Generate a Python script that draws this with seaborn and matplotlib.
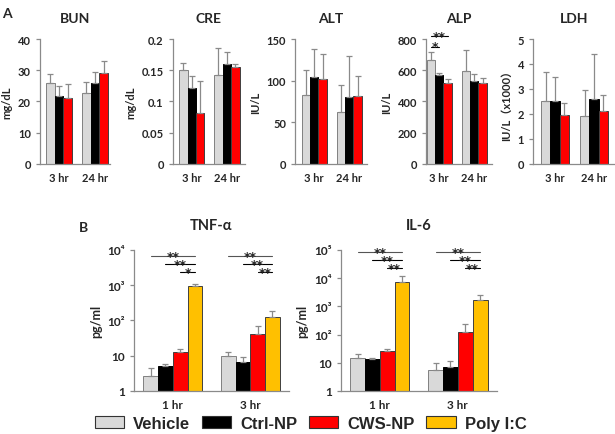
import matplotlib
matplotlib.use("Agg")
import matplotlib.pyplot as plt
from matplotlib.patches import Patch
import numpy as np
import pandas as pd
import seaborn as sns

# ---------------- data ----------------
groups_a = ["3 hr", "24 hr"]
groups_b = ["1 hr", "3 hr"]
series_a = ["Vehicle", "Ctrl-NP", "CWS-NP"]
series_b = ["Vehicle", "Ctrl-NP", "CWS-NP", "Poly I:C"]

# panel A: mean / sd per series, [3 hr, 24 hr]
bun_mean = {"Vehicle": [25.8, 22.7], "Ctrl-NP": [21.9, 25.8], "CWS-NP": [21.2, 29.1]}
bun_sd = {"Vehicle": [3.0, 3.4], "Ctrl-NP": [3.0, 3.7], "CWS-NP": [4.5, 3.8]}
cre_mean = {"Vehicle": [0.151, 0.143], "Ctrl-NP": [0.121, 0.160], "CWS-NP": [0.081, 0.155]}
cre_sd = {"Vehicle": [0.010, 0.042], "Ctrl-NP": [0.019, 0.019], "CWS-NP": [0.051, 0.005]}
alt_mean = {"Vehicle": [82.7, 62.3], "Ctrl-NP": [104.4, 80.4], "CWS-NP": [102.4, 81.6]}
alt_sd = {"Vehicle": [30, 33], "Ctrl-NP": [34, 49], "CWS-NP": [30, 23.5]}
alp_mean = {"Vehicle": [665, 597], "Ctrl-NP": [567, 529], "CWS-NP": [516, 520]}
alp_sd = {"Vehicle": [50, 130], "Ctrl-NP": [13, 50], "CWS-NP": [26, 32]}
ldh_mean = {"Vehicle": [2.5, 1.93], "Ctrl-NP": [2.5, 2.6], "CWS-NP": [1.95, 2.1]}
ldh_sd = {"Vehicle": [1.18, 1.03], "Ctrl-NP": [0.98, 1.8], "CWS-NP": [0.47, 0.65]}

# panel B: [1 hr, 3 hr]
tnf_mean = {"Vehicle": [2.7, 9.7], "Ctrl-NP": [5.0, 6.6], "CWS-NP": [12.6, 42], "Poly I:C": [930, 127]}
tnf_sd = {"Vehicle": [1.8, 3.2], "Ctrl-NP": [0.8, 2.7], "CWS-NP": [3.4, 28], "Poly I:C": [120, 58]}
il6_mean = {"Vehicle": [14.7, 5.6], "Ctrl-NP": [13.5, 7.2], "CWS-NP": [27, 126], "Poly I:C": [7600, 1740]}
il6_sd = {"Vehicle": [5.3, 4.1], "Ctrl-NP": [1.2, 4.1], "CWS-NP": [4, 114], "Poly I:C": [3900, 800]}

colors = {"Vehicle": "#d9d9d9", "Ctrl-NP": "#000000", "CWS-NP": "#ff0000", "Poly I:C": "#ffc000"}
edges = {"Vehicle": "#808080", "Ctrl-NP": "#000000", "CWS-NP": "#404040", "Poly I:C": "#404040"}

sns.set_theme(style="white")
plt.rcParams["font.family"] = ["Lato", "Noto Sans CJK JP", "DejaVu Sans"]
plt.rcParams["font.weight"] = "bold"
plt.rcParams["axes.labelweight"] = "bold"
plt.rcParams["axes.titleweight"] = "bold"

fig = plt.figure(figsize=(6.15, 4.35), dpi=100)
GRAY = "#8a8a8a"


def draw_bars(ax, groups, series, mean, sd, width, xlim, log=False):
    rows = []
    for s in series:
        for g, m in zip(groups, mean[s]):
            rows.append({"group": g, "series": s, "value": m})
    df = pd.DataFrame(rows)
    sns.barplot(data=df, x="group", y="value", hue="series", order=groups,
                hue_order=series, palette=colors, width=width, errorbar=None,
                legend=False, ax=ax, linewidth=0.7, saturation=1)
    for s, cont in zip(series, ax.containers):
        xs, hs = [], []
        for bar in cont:
            bar.set_edgecolor(edges[s])
            xs.append(bar.get_x() + bar.get_width() / 2)
            hs.append(bar.get_height())
        ax.errorbar(xs, hs, yerr=[np.zeros(len(hs)), sd[s]], fmt="none",
                    ecolor=GRAY, elinewidth=0.9, capsize=2, capthick=0.9)
    if log:
        ax.set_yscale("log")
        ax.minorticks_off()
    ax.set_xlim(*xlim)
    ax.set_xlabel("")
    ax.set_xticks([0, 1])
    ax.set_xticks([xlim[0], 0.5, xlim[1]], minor=True)
    ax.tick_params(axis="x", which="major", length=0, pad=6)
    ax.tick_params(axis="x", which="minor", length=3, direction="out", color=GRAY, width=0.9)
    ax.tick_params(axis="y", length=3, direction="out", color=GRAY, width=0.9, left=True)
    for sp in ["top", "right"]:
        ax.spines[sp].set_visible(False)
    for sp in ["left", "bottom"]:
        ax.spines[sp].set_color(GRAY)
        ax.spines[sp].set_linewidth(0.9)


def bar_x(ax, series, name, gi):
    return ax.containers[series.index(name)][gi]


def sig(ax, series, gi, s1, s2, y, text, color="black"):
    b1 = bar_x(ax, series, s1, gi)
    b2 = bar_x(ax, series, s2, gi)
    x1 = b1.get_x() + b1.get_width() / 2
    x2 = b2.get_x() + b2.get_width() / 2
    tr = ax.get_xaxis_transform()
    ax.plot([x1, x2], [y, y], color=color, lw=0.8, transform=tr, clip_on=False)
    ax.text((x1 + x2) / 2, y - 0.03, text, transform=tr, ha="center", va="baseline",
            fontsize=9, fontweight="bold", family="DejaVu Sans")


# ---------------- panel A ----------------
top_y, top_h = 0.621, 0.287
panel_a = [
    ("BUN", bun_mean, bun_sd, "mg/dL", (0.065, 0.114), (-0.53, 1.42), (0, 40), [0, 10, 20, 30, 40], None),
    ("CRE", cre_mean, cre_sd, "mg/dL", (0.281, 0.117), (-0.54, 1.51), (0, 0.2), [0, 0.05, 0.1, 0.15, 0.2],
     ["0", "0.05", "0.1", "0.15", "0.2"]),
    ("ALT", alt_mean, alt_sd, "IU/L", (0.480, 0.117), (-0.54, 1.51), (0, 150), [0, 50, 100, 150], None),
    ("ALP", alp_mean, alp_sd, "IU/L", (0.693, 0.107), (-0.37, 1.51), (0, 800), [0, 200, 400, 600, 800], None),
    ("LDH", ldh_mean, ldh_sd, "IU/L（x1000）", (0.867, 0.133), (-0.56, 1.54), (0, 5), [0, 1, 2, 3, 4, 5], None),
]
axes_a = {}
for title, mean, sd, ylab, (x0, w), xlim, ylim, yt, ytl in panel_a:
    ax = fig.add_axes([x0, top_y, w, top_h])
    draw_bars(ax, groups_a, series_a, mean, sd, 0.72, xlim)
    ax.set_ylim(*ylim)
    ax.set_yticks(yt)
    if ytl:
        ax.set_yticklabels(ytl)
    ax.set_ylabel(ylab, fontsize=8, labelpad=4)
    ax.set_title(title, fontsize=10, pad=12)
    ax.tick_params(labelsize=8)
    axes_a[title] = ax

sig(axes_a["ALP"], series_a, 0, "Vehicle", "CWS-NP", 1.025, "**")
sig(axes_a["ALP"], series_a, 0, "Vehicle", "Ctrl-NP", 0.94, "*")

# ---------------- panel B ----------------
bot_y, bot_h = 0.099, 0.324
ax_t = fig.add_axes([0.218, bot_y, 0.252, bot_h])
draw_bars(ax_t, groups_b, series_b, tnf_mean, tnf_sd, 0.76, (-0.5, 1.5), log=True)
ax_t.set_ylim(1, 1e4)
ax_t.set_yticks([1, 10, 100, 1000, 10000])
ax_t.set_yticklabels(["1", "10", "10²", "10³", "10⁴"])
ax_t.set_ylabel("pg/ml", fontsize=9, labelpad=4)
ax_t.set_title("TNF-α", fontsize=10.5, pad=15)
ax_t.tick_params(labelsize=8.5)

ax_i = fig.add_axes([0.554, bot_y, 0.254, bot_h])
draw_bars(ax_i, groups_b, series_b, il6_mean, il6_sd, 0.76, (-0.5, 1.5), log=True)
ax_i.set_ylim(1, 1e5)
ax_i.set_yticks([1, 10, 100, 1000, 10000, 100000])
ax_i.set_yticklabels(["1", "10", "10²", "10³", "10⁴", "10⁵"])
ax_i.set_ylabel("pg/ml", fontsize=9, labelpad=4)
ax_i.set_title("IL-6", fontsize=10.5, pad=15)
ax_i.tick_params(labelsize=8.5)

for gi in range(2):
    sig(ax_t, series_b, gi, "Vehicle", "Poly I:C", 0.957, "**", color="#555555")
    sig(ax_t, series_b, gi, "Ctrl-NP", "Poly I:C", 0.90, "**")
    sig(ax_t, series_b, gi, "CWS-NP", "Poly I:C", 0.844, "*" if gi == 0 else "**")
    sig(ax_i, series_b, gi, "Vehicle", "Poly I:C", 0.986, "**", color="#555555")
    sig(ax_i, series_b, gi, "Ctrl-NP", "Poly I:C", 0.929, "**")
    sig(ax_i, series_b, gi, "CWS-NP", "Poly I:C", 0.872, "**")

# legend
handles = [Patch(facecolor=colors[s], edgecolor="#333333", linewidth=0.8, label=s) for s in series_b]
fig.legend(handles=handles, loc="center", bbox_to_anchor=(0.505, 0.024), ncol=4, frameon=False,
           prop={"family": "Liberation Sans", "weight": "bold", "size": 12},
           handlelength=1.75, handleheight=0.75, handletextpad=0.55, columnspacing=0.7,
           borderaxespad=0, borderpad=0)

fig.text(0.003, 0.968, "A", fontsize=10, fontweight="bold", va="center")
fig.text(0.128, 0.476, "B", fontsize=10, fontweight="bold", va="center")

fig.savefig("out.png", dpi=100)
